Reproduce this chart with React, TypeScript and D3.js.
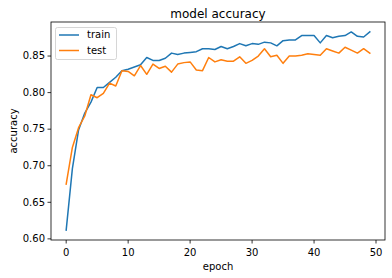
import React from "react";
import * as d3 from "d3";

const epochs = d3.range(0, 50);
const trainAcc = [0.612, 0.696, 0.749, 0.772, 0.787, 0.807, 0.807, 0.814, 0.821, 0.830, 0.832, 0.835, 0.838, 0.848, 0.844, 0.844, 0.847, 0.854, 0.852, 0.854, 0.855, 0.856, 0.860, 0.860, 0.859, 0.863, 0.860, 0.863, 0.867, 0.864, 0.867, 0.866, 0.869, 0.868, 0.864, 0.871, 0.872, 0.872, 0.878, 0.878, 0.878, 0.868, 0.878, 0.875, 0.877, 0.878, 0.883, 0.877, 0.876, 0.883];
const testAcc = [0.675, 0.725, 0.752, 0.768, 0.797, 0.793, 0.799, 0.813, 0.809, 0.830, 0.829, 0.823, 0.837, 0.825, 0.839, 0.833, 0.836, 0.828, 0.839, 0.841, 0.842, 0.831, 0.830, 0.848, 0.842, 0.845, 0.843, 0.843, 0.849, 0.840, 0.844, 0.850, 0.860, 0.849, 0.851, 0.840, 0.850, 0.850, 0.851, 0.853, 0.852, 0.851, 0.860, 0.857, 0.854, 0.862, 0.858, 0.854, 0.860, 0.854];
const xTicks = [0, 10, 20, 30, 40, 50];
const yTicks = [0.6, 0.65, 0.7, 0.75, 0.8, 0.85];
const seriesNames = ["train", "test"];
const seriesColors = ["#1f77b4", "#ff7f0e"];

const W = 392, H = 278;
const L = 51, R = 385, T = 22, B = 240;
const font = "DejaVu Sans, sans-serif";

export default function App() {
  const xMin = 0, xMax = epochs.length - 1;
  const xPad = (xMax - xMin) * 0.05;
  const x = d3.scaleLinear().domain([xMin - xPad, xMax + xPad]).range([L, R]);
  const all = [...trainAcc, ...testAcc];
  const [lo, hi] = d3.extent(all) as [number, number];
  const yPad = (hi - lo) * 0.05;
  const y = d3.scaleLinear().domain([lo - yPad, hi + yPad]).range([B, T]);
  const line = d3.line<number>().x((_, i) => x(epochs[i])).y((d) => y(d));
  const series = [trainAcc, testAcc];

  return (
    <svg width={W} height={H} style={{ position: "absolute", left: 0, top: 0, background: "#fff" }} fontFamily={font}>
      <rect x={0} y={0} width={W} height={H} fill="#fff" />
      {series.map((s, i) => (
        <path key={i} d={line(s) || ""} fill="none" stroke={seriesColors[i]} strokeWidth={1.5} strokeLinejoin="round" strokeLinecap="square" />
      ))}
      <rect x={L} y={T} width={R - L} height={B - T} fill="none" stroke="#000" strokeWidth={0.8} />
      {xTicks.map((t) => (
        <g key={t} transform={`translate(${x(t)},${B})`}>
          <line y1={0} y2={3.5} stroke="#000" strokeWidth={0.8} />
          <text y={13} dy="0.32em" textAnchor="middle" fontSize={10} fill="#000">{t}</text>
        </g>
      ))}
      {yTicks.map((t) => (
        <g key={t} transform={`translate(${L},${y(t)})`}>
          <line x1={0} x2={-3.5} stroke="#000" strokeWidth={0.8} />
          <text x={-6} dy="0.32em" textAnchor="end" fontSize={10} fill="#000">{d3.format(".2f")(t)}</text>
        </g>
      ))}
      <text x={(L + R) / 2} y={267} dy="0.32em" textAnchor="middle" fontSize={10} fill="#000">epoch</text>
      <text transform={`translate(14,${(T + B) / 2}) rotate(-90)`} dy="0.32em" textAnchor="middle" fontSize={10} fill="#000">accuracy</text>
      <text x={(L + R) / 2} y={14} dy="0.32em" textAnchor="middle" fontSize={12} fill="#000">model accuracy</text>
      <g>
        <rect x={55.5} y={27.5} width={61} height={32} rx={2} fill="#fff" fillOpacity={0.8} stroke="#cccccc" strokeWidth={0.8} />
        {seriesNames.map((n, i) => (
          <g key={n} transform={`translate(0,${35 + i * 15.5})`}>
            <line x1={59} x2={79} stroke={seriesColors[i]} strokeWidth={1.5} />
            <text x={87} dy="0.32em" fontSize={10} fill="#000">{n}</text>
          </g>
        ))}
      </g>
    </svg>
  );
}
